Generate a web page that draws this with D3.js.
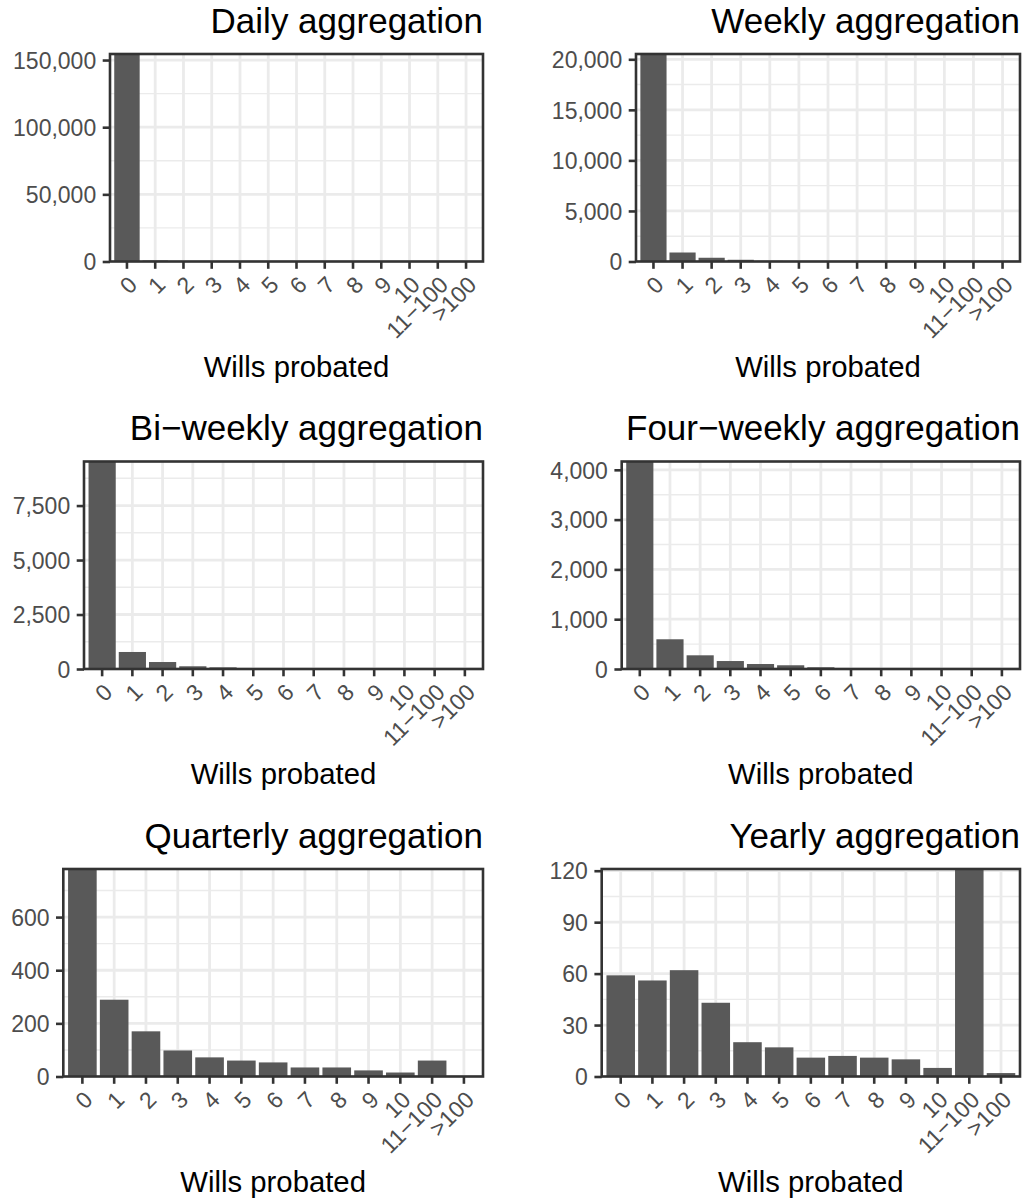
<!DOCTYPE html>
<html>
<head>
<meta charset="utf-8">
<script src="https://cdn.jsdelivr.net/npm/d3@7"></script>
<style>
  html, body { margin: 0; padding: 0; background: #ffffff; }
  svg { display: block; font-family: "Liberation Sans", Arial, Helvetica, sans-serif; }
</style>
</head>
<body>
<svg id="chart" width="1024" height="1201"></svg>
<script>
// ---------------- data ----------------
const categories = ["0", "1", "2", "3", "4", "5", "6", "7", "8", "9", "10", "11\u2212100", ">100"];

const panelTitles = [
  "Daily aggregation",
  "Weekly aggregation",
  "Bi\u2212weekly aggregation",
  "Four\u2212weekly aggregation",
  "Quarterly aggregation",
  "Yearly aggregation"
];

const dailyValues      = [154500, 700, 200, 60, 20, 8, 3, 1, 1, 0, 0, 1, 0];
const weeklyValues     = [20524, 890, 370, 170, 60, 25, 10, 5, 3, 2, 1, 2, 0];
const biweeklyValues   = [9522, 781, 320, 125, 75, 20, 10, 5, 3, 2, 1, 3, 0];
const fourweeklyValues = [4167, 597, 275, 160, 100, 75, 35, 10, 5, 3, 2, 8, 0];
const quarterlyValues  = [781, 289, 170, 98, 72, 60, 53, 34, 34, 23, 15, 60, 0];
const yearlyValues     = [59, 56, 62, 43, 20, 17, 11, 12, 11, 10, 5, 121, 2];

const dailyTicks      = [0, 50000, 100000, 150000];
const weeklyTicks     = [0, 5000, 10000, 15000, 20000];
const biweeklyTicks   = [0, 2500, 5000, 7500];
const fourweeklyTicks = [0, 1000, 2000, 3000, 4000];
const quarterlyTicks  = [0, 200, 400, 600];
const yearlyTicks     = [0, 30, 60, 90, 120];

const xAxisTitle = "Wills probated";

// ---------------- layout ----------------
const panelLefts  = [110, 636, 84, 621.7, 63.3, 601.7];
const colRights   = [483, 1020];
const rowTops     = [54, 461.5, 869];
const panelHeight = 207.5;

const seriesList = [dailyValues, weeklyValues, biweeklyValues, fourweeklyValues, quarterlyValues, yearlyValues];
const tickList   = [dailyTicks, weeklyTicks, biweeklyTicks, fourweeklyTicks, quarterlyTicks, yearlyTicks];

const tickLen = 7.3;
const gridCol = "#EBEBEB";
const darkCol = "#333333";
const barCol  = "#595959";
const tickTextCol = "#4D4D4D";

const svg = d3.select("#chart");
const fmt = d3.format(",");

seriesList.forEach((values, i) => {
  const row = Math.floor(i / 2), col = i % 2;
  const left = panelLefts[i], right = colRights[col];
  const top = rowTops[row], bottom = top + panelHeight;
  const ticks = tickList[i];
  const yMax = d3.max(values);

  const x = d3.scaleBand().domain(categories).range([left, right])
    .paddingInner(0.1).paddingOuter(0.15);
  const y = d3.scaleLinear().domain([0, yMax]).range([bottom, top]);

  // minor breaks: midpoints
  const minor = [];
  for (let k = 0; k < ticks.length; k++) {
    const step = ticks[1] - ticks[0];
    const m = ticks[k] + step / 2;
    if (m < yMax) minor.push(m);
  }

  const g = svg.append("g");
  g.append("rect").attr("x", left).attr("y", top)
    .attr("width", right - left).attr("height", panelHeight).attr("fill", "#fff");

  const clipId = "clip" + i;
  svg.append("clipPath").attr("id", clipId).append("rect")
    .attr("x", left).attr("y", top).attr("width", right - left).attr("height", panelHeight);

  const inner = g.append("g").attr("clip-path", `url(#${clipId})`);

  inner.selectAll("line.minor").data(minor).enter().append("line")
    .attr("x1", left).attr("x2", right)
    .attr("y1", d => y(d)).attr("y2", d => y(d))
    .attr("stroke", gridCol).attr("stroke-width", 1.4);

  inner.selectAll("line.majory").data(ticks).enter().append("line")
    .attr("x1", left).attr("x2", right)
    .attr("y1", d => y(d)).attr("y2", d => y(d))
    .attr("stroke", gridCol).attr("stroke-width", 2.8);

  inner.selectAll("line.majorx").data(categories).enter().append("line")
    .attr("x1", d => x(d) + x.bandwidth() / 2).attr("x2", d => x(d) + x.bandwidth() / 2)
    .attr("y1", top).attr("y2", bottom)
    .attr("stroke", gridCol).attr("stroke-width", 2.8);

  inner.selectAll("rect.bar").data(values).enter().append("rect")
    .attr("x", (d, j) => x(categories[j]))
    .attr("width", x.bandwidth())
    .attr("y", d => y(d))
    .attr("height", d => bottom - y(d))
    .attr("fill", barCol);

  g.append("rect").attr("x", left).attr("y", top)
    .attr("width", right - left).attr("height", panelHeight)
    .attr("fill", "none").attr("stroke", darkCol).attr("stroke-width", 2.6);

  // y axis
  const ya = g.append("g").attr("transform", `translate(${left},0)`)
    .call(d3.axisLeft(y).tickValues(ticks).tickFormat(fmt).tickSize(tickLen).tickPadding(6.5));
  ya.select(".domain").remove();
  ya.selectAll(".tick line").attr("stroke", darkCol).attr("stroke-width", 2.6);
  ya.selectAll(".tick text").attr("fill", tickTextCol)
    .style("font-size", "23px").style("font-family", "'Liberation Sans', Arial, sans-serif")
    .attr("dy", "0.36em");

  // x axis
  const xa = g.append("g").attr("transform", `translate(0,${bottom})`)
    .call(d3.axisBottom(x).tickSize(tickLen).tickPadding(5.8));
  xa.select(".domain").remove();
  xa.selectAll(".tick line").attr("stroke", darkCol).attr("stroke-width", 2.6);
  xa.selectAll(".tick text").attr("fill", tickTextCol)
    .style("font-size", "23px").style("font-family", "'Liberation Sans', Arial, sans-serif")
    .attr("x", 0).attr("y", 0)
    .attr("transform", `translate(0,${tickLen + 5.8}) rotate(-45)`)
    .attr("text-anchor", "end")
    .attr("dy", "0.72em");

  // title
  g.append("text").attr("x", right).attr("y", top - 21.5)
    .attr("text-anchor", "end").attr("fill", "#000")
    .style("font-size", "35px")
    .text(panelTitles[i]);

  // x axis title
  g.append("text").attr("x", (left + right) / 2).attr("y", bottom + 115)
    .attr("text-anchor", "middle").attr("fill", "#000")
    .style("font-size", "29.3px")
    .text(xAxisTitle);
});
</script>
</body>
</html>
